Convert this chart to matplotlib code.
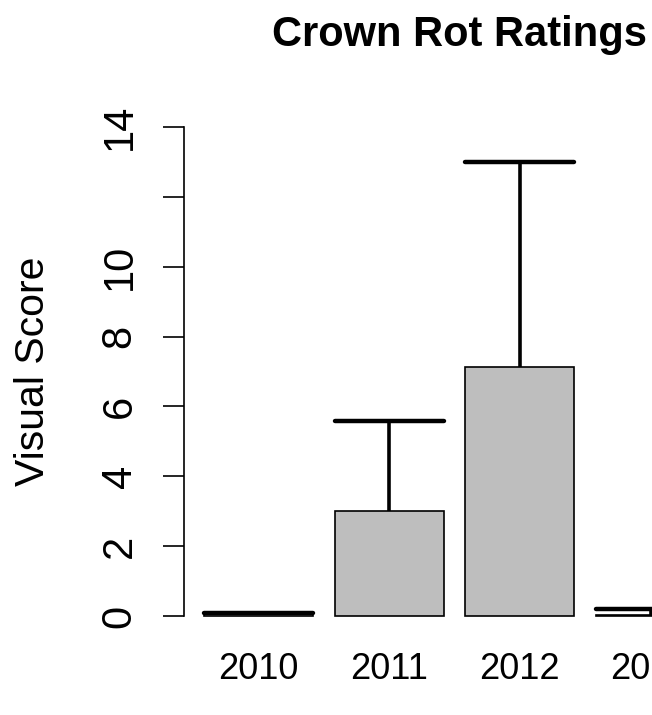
import matplotlib
matplotlib.use("Agg")
import matplotlib.pyplot as plt
import numpy as np

# mean visual score per year and the upper error reach
years = ["2010", "2011", "2012", "2013"]
means = [0.05, 3.01, 7.13, 0.03]
errors = [0.05, 2.57, 5.87, 0.16]

plt.rcParams['font.family'] = ['Liberation Sans', 'DejaVu Sans']

W, H = 652, 715
fig = plt.figure(figsize=(W / 100, H / 100), dpi=100)

# plot region runs past the right edge, like a cropped R barplot
left_px, right_px = 184, 725
top_px, bottom_px = 107.4, 635.6
ax = fig.add_axes([left_px / W, 1 - bottom_px / H,
                   (right_px - left_px) / W, (bottom_px - top_px) / H])

width = 1.0
space = 0.2
x = space + np.arange(len(years)) * (width + space) + width / 2

ax.bar(x, means, width=width, color="#bebebe", edgecolor="black",
       linewidth=1.2, zorder=2)

# upper error bars only, cap as wide as the bar
tops = np.array(means) + np.array(errors)
ax.vlines(x, means, tops, color="black", linewidth=2.6, zorder=3)
ax.hlines(tops, x - width / 2, x + width / 2, color="black",
          linewidth=3.2, capstyle="round", zorder=3)

ax.set_xlim(0.016, 4.984)
ax.set_ylim(-0.56, 14.56)

for s in ["top", "right", "bottom"]:
    ax.spines[s].set_visible(False)
ax.spines["left"].set_bounds(0, 14)
ax.spines["left"].set_linewidth(1.2)

yt = np.arange(0, 15, 2)
ax.set_yticks(yt)
ax.set_yticklabels(["" if v == 12 else str(v) for v in yt],
                   rotation=90, va="center", fontsize=30)
ax.tick_params(axis="y", direction="out", length=15, width=1.2, pad=17)

ax.set_xticks(x)
ax.set_xticklabels(years, fontsize=26)
ax.tick_params(axis="x", length=0, pad=12)

fig.text(33 / W, 1 - 371 / H, "Visual Score", rotation=90,
         ha="center", va="center", fontsize=29.5)
fig.text(460 / W, 1 - 46 / H, "Crown Rot Ratings", ha="center",
         va="baseline", fontsize=30, fontweight="bold")

fig.savefig("out.png", dpi=100)
